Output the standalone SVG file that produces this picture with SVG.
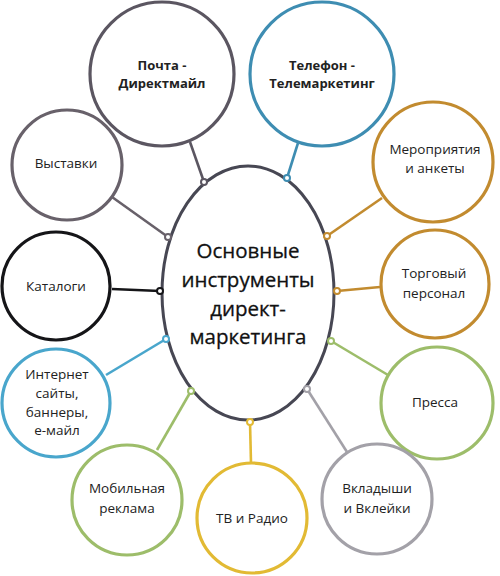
<svg xmlns="http://www.w3.org/2000/svg" width="500" height="576" viewBox="0 0 500 576">
<style>
text{font-family:"Open Sans","Noto Sans","DejaVu Sans",sans-serif;fill:#222;text-anchor:middle;font-size:13.5px}
.b{font-weight:bold;font-size:13px}
.c{font-size:20.5px;fill:#111;stroke:#111;stroke-width:0.3}
circle.n{fill:#fff;stroke-width:3.2}
.l{stroke-width:2.6;fill:none}
.d{fill:#fff;stroke-width:2}
.g1{stroke:#5b5661}.g2{stroke:#68616a}.bl{stroke:#3e8db2}.bl2{stroke:#49a6cc}.k{stroke:#151518}
.o{stroke:#c28b2f}.gr{stroke:#9dbd6a}.y{stroke:#e2ba34}.gy{stroke:#a3a1a8}
</style>
<rect width="500" height="576" fill="#fff"/>
<g id="connectors">
<line class="l g1" x1="190" y1="142" x2="204" y2="182"/>
<line class="l bl" x1="298" y1="143" x2="287" y2="178"/>
<line class="l o" x1="382" y1="198" x2="327" y2="236"/>
<line class="l o" x1="380" y1="287" x2="337" y2="291"/>
<line class="l gr" x1="388" y1="375" x2="331" y2="341"/>
<line class="l gy" x1="347" y1="452" x2="307" y2="389"/>
<line class="l y" x1="251" y1="463" x2="250" y2="422"/>
<line class="l gr" x1="157" y1="450" x2="191" y2="391"/>
<line class="l bl2" x1="106" y1="375" x2="166" y2="339"/>
<line class="l k" x1="112" y1="289" x2="160" y2="291"/>
<line class="l g2" x1="112" y1="197" x2="168" y2="237"/>
</g>
<g id="center">
<ellipse cx="248" cy="293" rx="86" ry="127" fill="#fff" stroke="#474753" stroke-width="3"/>
<text class="c" x="248" y="258">Основные</text>
<text class="c" x="248" y="287">инструменты</text>
<text class="c" x="248" y="316">директ-</text>
<text class="c" x="248" y="344">маркетинга</text>
</g>
<g id="dots">
<circle class="d g1" cx="204" cy="182" r="3"/>
<circle class="d bl" cx="287" cy="178" r="3"/>
<circle class="d o" cx="327" cy="236" r="3"/>
<circle class="d o" cx="337" cy="291" r="3"/>
<circle class="d gr" cx="331" cy="341" r="3"/>
<circle class="d gy" cx="307" cy="389" r="3"/>
<circle class="d y" cx="250" cy="422" r="3"/>
<circle class="d gr" cx="191" cy="391" r="3"/>
<circle class="d bl2" cx="166" cy="339" r="3"/>
<circle class="d k" cx="160" cy="291" r="3"/>
<circle class="d g2" cx="168" cy="237" r="3"/>
</g>
<g id="pochta">
<circle class="n g1" cx="162" cy="74" r="72"/>
<text class="b" x="162" y="70">Почта -</text>
<text class="b" x="162" y="88">Директмайл</text>
</g>
<g id="telefon">
<circle class="n bl" cx="322" cy="74" r="72"/>
<text class="b" x="322" y="70">Телефон -</text>
<text class="b" x="322" y="88">Телемаркетинг</text>
</g>
<g id="meropriyatiya">
<circle class="n o" cx="433" cy="162" r="60"/>
<text x="435" y="154">Мероприятия</text>
<text x="435" y="173">и анкеты</text>
</g>
<g id="torgovyi">
<circle class="n o" cx="435" cy="284" r="54"/>
<text x="434" y="278">Торговый</text>
<text x="434" y="298">персонал</text>
</g>
<g id="pressa">
<circle class="n gr" cx="437" cy="403" r="56"/>
<text x="435" y="407">Пресса</text>
</g>
<g id="vkladyshi">
<circle class="n gy" cx="377" cy="499" r="55"/>
<text x="377" y="493">Вкладыши</text>
<text x="377" y="513">и Вклейки</text>
</g>
<g id="tv">
<circle class="n y" cx="252" cy="518" r="55"/>
<text x="252" y="523">ТВ и Радио</text>
</g>
<g id="mobilnaya">
<circle class="n gr" cx="127" cy="500" r="55"/>
<text x="127" y="493">Мобильная</text>
<text x="127" y="513">реклама</text>
</g>
<g id="internet">
<circle class="n bl2" cx="56" cy="403" r="54"/>
<text x="57" y="379">Интернет</text>
<text x="57" y="398">сайты,</text>
<text x="57" y="417">баннеры,</text>
<text x="57" y="435">е-майл</text>
</g>
<g id="katalogi">
<circle class="n k" cx="56" cy="286" r="54"/>
<text x="56" y="291">Каталоги</text>
</g>
<g id="vystavki">
<circle class="n g2" cx="67" cy="165" r="55"/>
<text x="66" y="168">Выставки</text>
</g>
</svg>
